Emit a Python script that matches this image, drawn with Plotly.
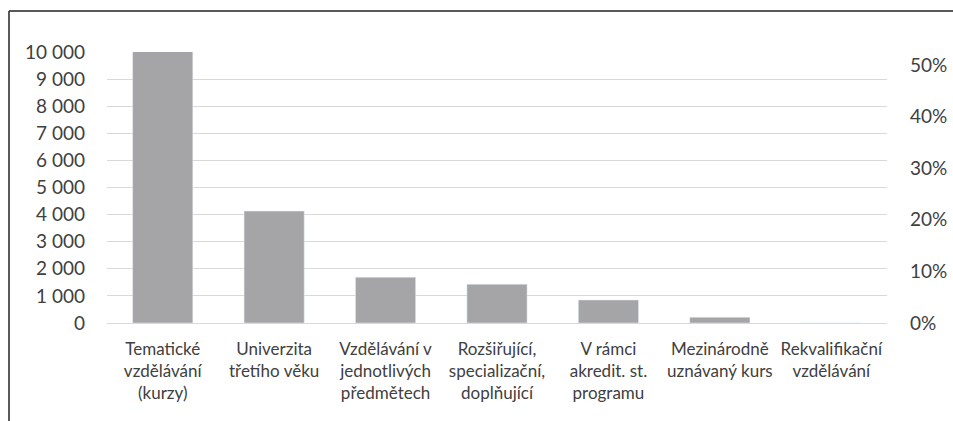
import plotly.graph_objects as go

categories = ["Tematické<br>vzdělávání<br>(kurzy)", "Univerzita<br>třetího věku",
              "Vzdělávání v<br>jednotlivých<br>předmětech", "Rozšiřující,<br>specializační,<br>doplňující",
              "V rámci<br>akredit. st.<br>programu", "Mezinárodně<br>uznávaný kurs", "Rekvalifikační<br>vzdělávání"]
counts = [10030, 4130, 1690, 1430, 850, 210, 0]
left_ticks = [0, 1000, 2000, 3000, 4000, 5000, 6000, 7000, 8000, 9000, 10000]
left_labels = ["0", "1 000", "2 000", "3 000", "4 000", "5 000", "6 000", "7 000", "8 000", "9 000", "10 000"]
right_ticks = [0, 0.1, 0.2, 0.3, 0.4, 0.5]
right_labels = ["0%", "10%", "20%", "30%", "40%", "50%"]

W, H = 953, 421
L, R, T, B = 107, 66, 52, 98
pw, ph = W - L - R, H - T - B

fig = go.Figure()
fig.add_trace(go.Bar(x=categories, y=counts, marker_color="#a5a5a7", width=0.54,
                     hoverinfo="skip"))
fig.add_trace(go.Scatter(x=categories, y=[None] * len(categories), yaxis="y2",
                         showlegend=False, hoverinfo="skip"))

font = "Lato, sans-serif"
txt = "#404040"
fig.update_layout(
    width=W, height=H, margin=dict(l=L, r=R, t=T, b=B, autoexpand=False),
    paper_bgcolor="white", plot_bgcolor="white", showlegend=False,
    font=dict(family=font, color=txt),
    xaxis=dict(tickfont=dict(size=17, color=txt), showgrid=False, showline=False,
               ticks="", fixedrange=True, ticklabelstandoff=14, automargin=False),
    yaxis=dict(range=[0, 10000], tickvals=left_ticks, ticktext=left_labels,
               tickfont=dict(size=19, color=txt), gridcolor="#d9d9d9", gridwidth=1.3,
               zeroline=True, zerolinecolor="#d9d9d9", zerolinewidth=1.3, showline=False,
               ticks="", ticklabelstandoff=21, automargin=False, fixedrange=True),
    yaxis2=dict(range=[0, 0.525], overlaying="y", side="right", tickvals=right_ticks,
                ticktext=right_labels, tickfont=dict(size=19, color=txt),
                showgrid=False, zeroline=False, showline=False, ticks="",
                ticklabelstandoff=22, automargin=False, fixedrange=True),
)

x0 = (9 - L) / pw
y0 = 1 + (T - 11) / ph
yb = -(H - T - ph + 5) / ph
fig.add_shape(type="line", xref="paper", yref="paper", x0=x0, x1=x0, y0=yb, y1=y0,
              line=dict(color="#222222", width=1.5))
fig.add_shape(type="line", xref="paper", yref="paper", x0=x0, x1=(W + 5 - L) / pw, y0=y0, y1=y0,
              line=dict(color="#222222", width=1.5))

fig.write_html("out.html", config={"displayModeBar": False},
               post_script="document.body.style.margin='0';document.body.style.overflow='hidden';")
